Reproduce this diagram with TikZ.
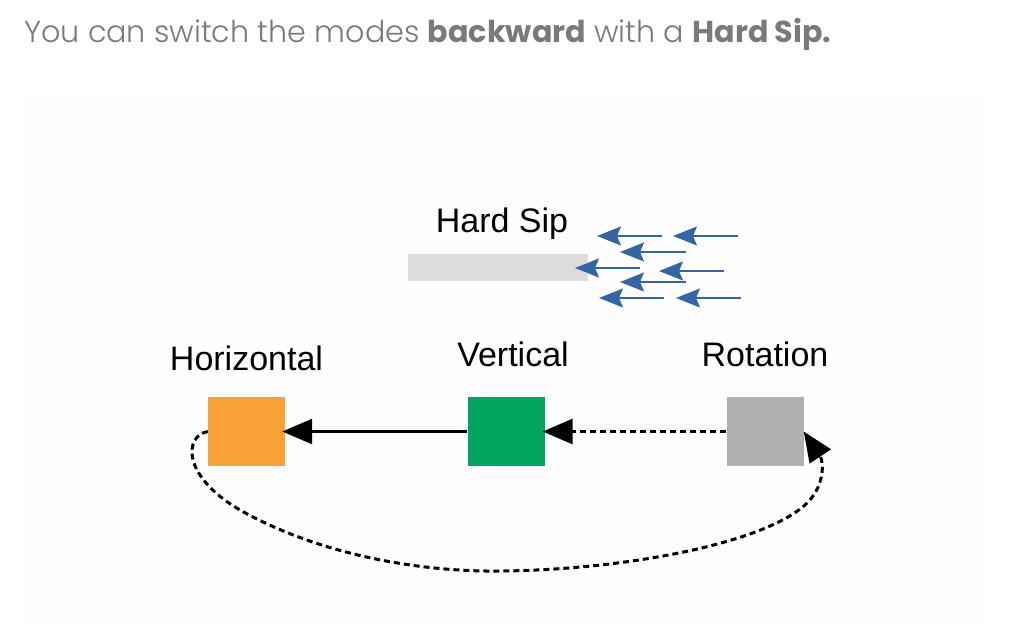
\documentclass[tikz,border=0pt]{standalone}
\usepackage{fontspec}
\setmainfont{Liberation Sans}
\IfFontExistsTF{Poppins Light}
  {\newfontfamily\headfont{Poppins Light}[BoldFont=Poppins Bold]}
  {\newfontfamily\headfont{Poppins}}
\usepackage{tikz}
\usetikzlibrary{positioning}
\usetikzlibrary{arrows.meta}
\definecolor{headgray}{HTML}{7A7A7A}
\definecolor{panelgray}{HTML}{FEFEFE}
\definecolor{hzorange}{HTML}{F9A235}
\definecolor{vtgreen}{HTML}{00A65E}
\definecolor{rtgray}{HTML}{B0B0B0}
\definecolor{bargray}{HTML}{DCDCDC}
\definecolor{sipblue}{HTML}{3465A4}

\begin{document}
\begin{tikzpicture}[x=1pt,y=-1pt,
  node distance = 28pt,
  mode/.style = {rectangle,minimum width=77pt,minimum height=69pt,inner sep=0pt},
  lbl/.style = {inner sep=0pt,text depth=0pt,font=\fontsize{34}{40}\selectfont},
  bar/.style = {rectangle,fill=bargray,minimum width=180pt,minimum height=27pt,inner sep=0pt},
  sip/.style = {sipblue,line width=1.4pt,-{Stealth[length=24pt,width=19pt,inset=4pt]}},
  back/.style = {line width=3pt,dash pattern=on 6pt off 4pt,-{Triangle[length=30pt,width=25pt]}}]
 \useasboundingbox (0,0) rectangle (1011,625);
 \fill[white] (0,0) rectangle (1011,625);
 \fill[panelgray] (24,97) rectangle (981,625);
 % header line
 \node[anchor=base west,inner sep=0pt,text=headgray,
       font=\headfont\fontsize{30.2}{36}\selectfont] (head) at (24,42)
   {You can switch the modes \textbf{backward} with a \textbf{Hard Sip.}};
 % hard sip
 \node[bar] (b) at (498,267.5) {};
 \node[lbl,above=21pt of b,xshift=4pt] (bl) {Hard Sip};
 \foreach \hx/\hy/\tx [count=\i] in {597/236/662, 673/236/738, 620/252/686,
     575/268/640, 659/271/724, 620/282/686, 599/298/664, 676/298/741} {
   \coordinate (t\i) at (\tx,\hy);
   \coordinate (h\i) at (\hx,\hy);
   \draw[sip] (t\i) -- (h\i);
 }
 % modes
 \node[mode,fill=hzorange] (o) at (246.5,431.5) {};
 \node[mode,fill=vtgreen] (v) at (506,431.5) {};
 \node[mode,fill=rtgray] (r) at (765,431.5) {};
 \node[lbl,above=26pt of o] (ol) {Horizontal};
 \node[lbl,above=30pt of v,xshift=7pt] (vl) {Vertical};
 \node[lbl,above=30pt of r] (rl) {Rotation};
 \draw[line width=2.5pt,shorten >=-3pt,-{Triangle[length=30pt,width=25pt]}] (v.west) -- (o.east);
 \draw[back,shorten >=-2pt] (r.west) -- (v.east);
 \draw[back] (o.west) .. controls (185,435) and (180,475) .. (240,510)
   .. controls (320,555) and (420,572) .. (500,571)
   .. controls (620,570) and (760,545) .. (805,505)
   .. controls (825,487) and (824,462) .. (r.east);
\end{tikzpicture}
\end{document}
